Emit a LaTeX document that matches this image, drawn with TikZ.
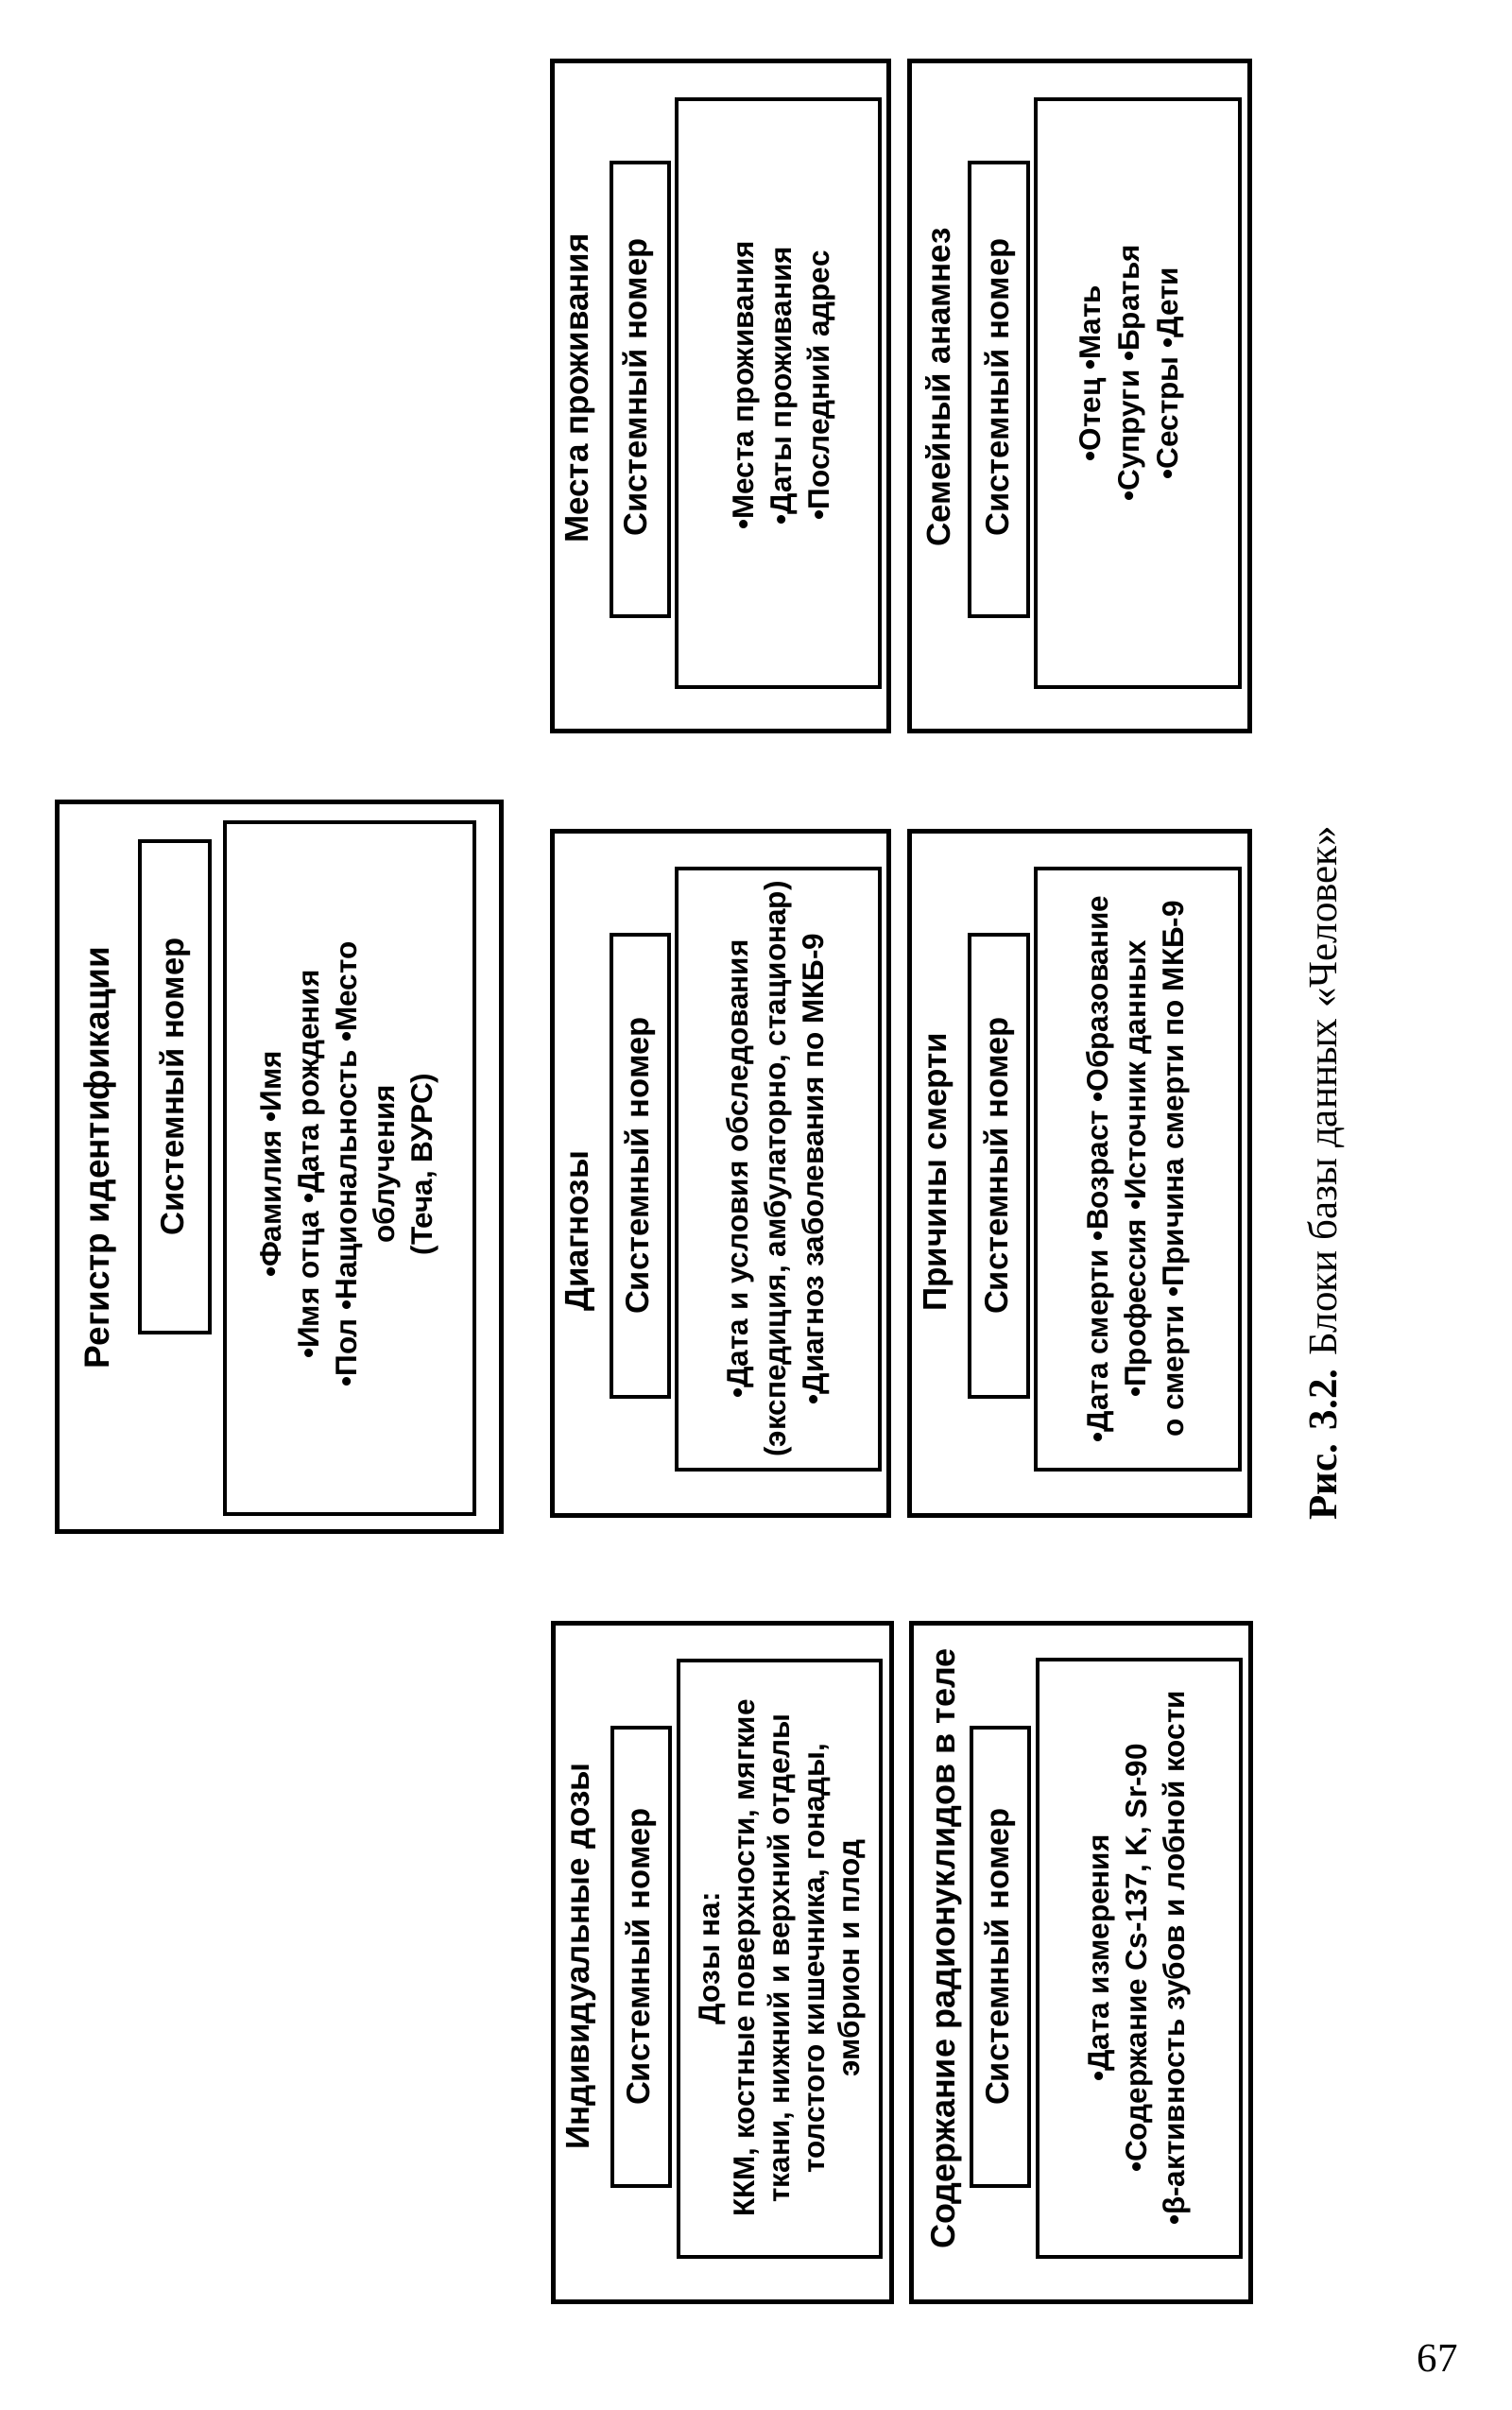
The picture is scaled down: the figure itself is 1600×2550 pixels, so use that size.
\documentclass[tikz,border=0pt]{standalone}
\usepackage{fontspec}
\setmainfont{Liberation Sans}
\newfontfamily\capfont{Liberation Serif}
\usetikzlibrary{positioning,fit}

\begin{document}
\begin{tikzpicture}[
    x=1pt, y=-1pt,
    frame/.style={draw, line width=5pt, inner sep=0pt},
    keybox/.style={draw, line width=4.5pt, inner sep=0pt},
    listbox/.style={draw, line width=4.5pt, inner sep=0pt},
    head/.style={rotate=90, inner sep=0pt, font=\bfseries\fontsize{35}{40}\selectfont},
    keytext/.style={rotate=90, inner sep=0pt, font=\bfseries\fontsize{34.5}{40}\selectfont},
    items/.style={rotate=90, inner sep=0pt, align=center,
                  font=\bfseries\fontsize{31.5}{40}\selectfont}
]
\useasboundingbox (0,0) rectangle (1600,2550);

% Места проживания
\node[frame, fit={(584,65) (940,773)}] (home) {};
\node[keybox, fit={(647,172) (708,652)}] (home key) {};
\node[listbox, fit={(716,105) (931,727)}] (home list) {};
\node[head] (home head) at (614,411) {Места проживания};
\node[keytext] (home num) at (675,410) {Системный номер};
\node[items] (home items) at (830,408) {•Места проживания\\•Даты проживания\\•Последний адрес};

% Семейный анамнез
\node[frame, fit={(962,65) (1322,773)}] (family) {};
\node[keybox, fit={(1026,172) (1088,652)}] (family key) {};
\node[listbox, fit={(1096,105) (1312,727)}] (family list) {};
\node[head] (family head) at (993,410) {Семейный анамнез};
\node[keytext] (family num) at (1058,410) {Системный номер};
\node[items, font=\bfseries\fontsize{31.5}{41}\selectfont] (family items) at (1198,395) {•Отец •Мать\\•Супруги •Братья\\•Сестры •Дети};

% Регистр идентификации
\node[frame, fit={(60,848) (530,1620)}] (reg) {};
\node[keybox, fit={(148,890) (222,1410)}] (reg key) {};
\node[listbox, fit={(238,870) (502,1602)}] (reg list) {};
\node[head, font=\bfseries\fontsize{37}{40}\selectfont] (reg head) at (106,1225) {Регистр идентификации};
\node[keytext] (reg num) at (reg key) {Системный номер};
\node[items] (reg items) at (370,1232) {•Фамилия •Имя\\•Имя отца •Дата рождения\\•Пол •Национальность •Место\\облучения\\(Теча, ВУРС)};

% Диагнозы
\node[frame, fit={(584,879) (940,1603)}] (diag) {};
\node[keybox, fit={(647,989) (708,1478)}] (diag key) {};
\node[listbox, fit={(716,919) (931,1555)}] (diag list) {};
\node[keytext] (diag num) at (diag key) {Системный номер};
\node[head, anchor=west] (diag head) at (614,1388) {Диагнозы};
\node[items] (diag items) at (diag list) {•Дата и условия обследования\\(экспедиция, амбулаторно, стационар)\\•Диагноз заболевания по МКБ-9};

% Причины смерти
\node[frame, fit={(962,879) (1322,1603)}] (death) {};
\node[keybox, fit={(1026,989) (1088,1478)}] (death key) {};
\node[listbox, fit={(1096,919) (1312,1555)}] (death list) {};
\node[keytext] (death num) at (death key) {Системный номер};
\node[head, anchor=west] (death head) at (993,1388) {Причины смерти};
\node[items] (death items) at (death list) {•Дата смерти •Возраст •Образование\\•Профессия •Источник данных\\о смерти •Причина смерти по МКБ-9};

% Индивидуальные дозы
\node[frame, fit={(585,1717) (943,2435)}] (dose) {};
\node[keybox, fit={(648,1828) (709,2313)}] (dose key) {};
\node[listbox, fit={(718,1757) (932,2388)}] (dose list) {};
\node[head] (dose head) at (615,2070) {Индивидуальные дозы};
\node[keytext] (dose num) at (dose key) {Системный номер};
\node[items, font=\bfseries\fontsize{31.5}{37}\selectfont] (dose items) at (828,2072) {Дозы на:\\ККМ, костные поверхности, мягкие\\ткани, нижний и верхний отделы\\толстого кишечника, гонады,\\эмбрион и плод};

% Содержание радионуклидов в теле
\node[frame, fit={(964,1717) (1323,2435)}] (nucl) {};
\node[keybox, fit={(1028,1828) (1089,2313)}] (nucl key) {};
\node[listbox, fit={(1098,1756) (1313,2388)}] (nucl list) {};
\node[head, font=\bfseries\fontsize{36}{40}\selectfont] (nucl head) at (1002,2062) {Содержание радионуклидов в теле};
\node[keytext] (nucl num) at (nucl key) {Системный номер};
\node[items] (nucl items) at (nucl list) {•Дата измерения\\•Содержание Cs-137, K, Sr-90\\•β-активность зубов и лобной кости};

% подпись и номер страницы
\node[rotate=90, inner sep=0pt, font=\capfont\fontsize{43}{46}\selectfont] (caption) at (1403,1241) {\textbf{Рис. 3.2.} Блоки базы данных «Человек»};
\node[inner sep=0pt, font=\capfont\fontsize{43}{46}\selectfont] (page) at (1521,2495) {67};

\end{tikzpicture}
\end{document}
